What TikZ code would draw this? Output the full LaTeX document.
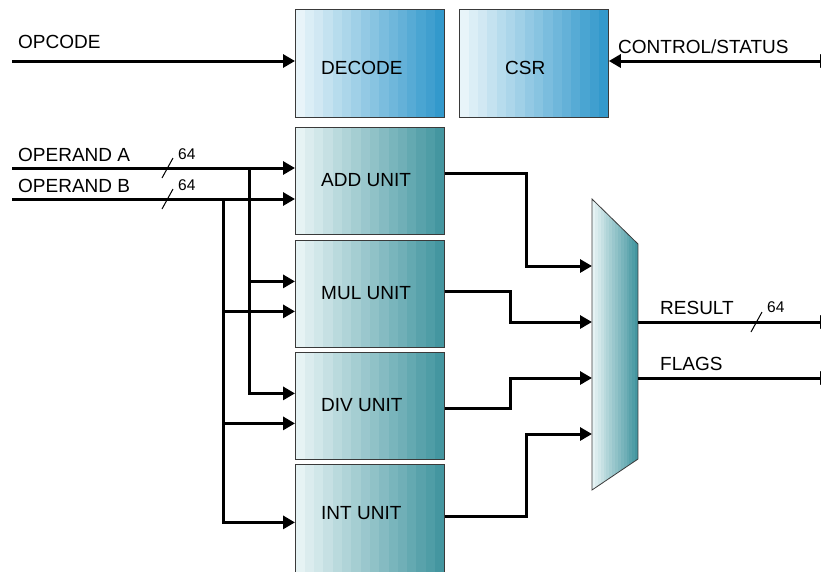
\documentclass[tikz,border=0pt]{standalone}
\usepackage{fontspec}
\setmainfont{Liberation Sans}
\usetikzlibrary{arrows.meta,calc}
\definecolor{declight}{HTML}{E8F4F9}
\definecolor{decdark}{HTML}{3399CC}
\definecolor{unitlight}{HTML}{E6F3F4}
\definecolor{unitdark}{HTML}{4496A0}
\definecolor{boxedge}{HTML}{3A3A3A}
\begin{document}
\begin{tikzpicture}[x=1pt,y=-1pt,
  banded/.style 2 args={path picture={
    \foreach \i in {0,...,15}{
      \pgfmathtruncatemacro\pc{round(\i*100/15)}
      \fill[#2!\pc!#1]
        ($(path picture bounding box.north west)!{\i/16}!(path picture bounding box.north east)$)
        rectangle
        ($(path picture bounding box.south west)!{(\i+1.1)/16}!(path picture bounding box.south east)$);
    }}},
  blk/.style={draw=boxedge,line width=0.8pt,anchor=north west,minimum width=149pt,minimum height=107pt,inner sep=0pt},
  ctrlbox/.style={blk,banded={declight}{decdark}},
  unitbox/.style={blk,banded={unitlight}{unitdark}},
  lbl/.style={font=\fontsize{19}{21}\selectfont,anchor=base west,inner sep=0pt},
  wlbl/.style={font=\fontsize{15.5}{17}\selectfont,anchor=base west,inner sep=0pt},
  wire/.style={line width=3pt},
  tip/.tip={Triangle[length=12pt,width=13pt]},
  arr/.style={wire,-tip},
  tickmark/.style={line width=1pt}]
\useasboundingbox (0,0) rectangle (821,571);
\clip (0,0) rectangle (821,571);

% blocks
\node[ctrlbox, minimum height=108pt] (decode) at (295,9) {};
\node[ctrlbox, minimum height=108pt] (csr) at (459,9) {};
\node[unitbox] (add) at (295,127) {};
\node[unitbox] (mul) at (295,240) {};
\node[unitbox] (div) at (295,352) {};
\node[unitbox, minimum height=114pt] (int) at (295,464) {};

\node[lbl] (decodeT) at (321,74) {DECODE};
\node[lbl] (csrT) at (505,74) {CSR};
\node[lbl] (addT) at (321,186) {ADD UNIT};
\node[lbl] (mulT) at (321,299) {MUL UNIT};
\node[lbl] (divT) at (321,411) {DIV UNIT};
\node[lbl] (intT) at (321,519) {INT UNIT};

% multiplexer
\path[draw=boxedge,line width=0.8pt,banded={unitlight}{unitdark}]
  (592,199) coordinate (muxtl) -- (638,244) coordinate (muxtr) -- (638,459) coordinate (muxbr)
  -- (592,490) coordinate (muxbl) -- cycle;
\coordinate (mi1) at (592,266);
\coordinate (mi2) at (592,322);
\coordinate (mi3) at (592,378);
\coordinate (mi4) at (592,434);
\coordinate (mo1) at (638,322);
\coordinate (mo2) at (638,378);

% top signals
\coordinate (opc) at (12,61);
\coordinate (cs) at (832,61);
\draw[arr] (opc) -- (decode.west |- opc);
\draw[wire,tip-tip] (csr.east |- cs) -- (cs);
\node[lbl] (opcT) at (18,48) {OPCODE};
\node[lbl] (csT) at (618,53) {CONTROL/STATUS};

% operands
\coordinate (opa) at (12,168);
\coordinate (opb) at (12,199);
\coordinate (ja) at (249,168);
\coordinate (jb) at (223,199);
\draw[arr] (opa) -- (add.west |- opa);
\draw[arr] (opb) -- (add.west |- opb);
\draw[arr] (ja) |- ([yshift=12.5pt]mul.west);
\draw[arr] (ja) |- ([yshift=12.5pt]div.west);
\draw[arr] (jb) |- ([yshift=-17.5pt]mul.west);
\draw[arr] (jb) |- ([yshift=-17.5pt]div.west);
\draw[arr] (jb) |- ([yshift=-1pt]int.west);
\node[lbl] (opaT) at (18,161) {OPERAND A};
\node[lbl] (opbT) at (18,192) {OPERAND B};
\draw[tickmark] (162,178) -- (173,158);
\draw[tickmark] (162,209) -- (173,189);
\node[wlbl] (wa) at (178,159) {64};
\node[wlbl] (wb) at (178,190) {64};

% unit outputs to mux
\coordinate (k1) at (526,266);
\coordinate (k2) at (510,322);
\coordinate (k3) at (510,378);
\coordinate (k4) at (526,434);
\draw[arr] ([yshift=7.5pt]add.east) -| (k1) -- (mi1);
\draw[arr] ([yshift=2.5pt]mul.east) -| (k2) -- (mi2);
\draw[arr] ([yshift=-2.5pt]div.east) -| (k3) -- (mi3);
\draw[arr] ([yshift=5pt]int.east) -| (k4) -- (mi4);

% mux outputs
\coordinate (res) at (832,322);
\coordinate (flg) at (832,378);
\draw[arr] (mo1) -- (res);
\draw[arr] (mo2) -- (flg);
\node[lbl] (resT) at (660,314) {RESULT};
\node[lbl] (flgT) at (660,370) {FLAGS};
\draw[tickmark] (751,332) -- (762,312);
\node[wlbl] (wr) at (767,312) {64};
\end{tikzpicture}
\end{document}
